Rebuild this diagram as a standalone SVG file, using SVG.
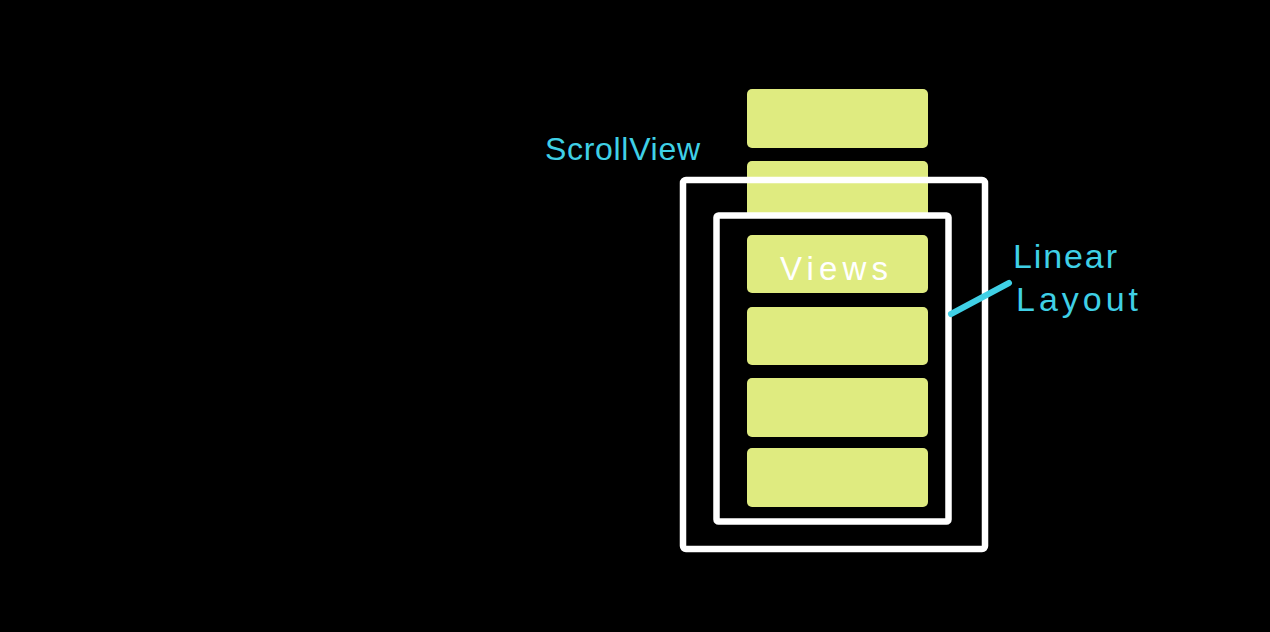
<svg xmlns="http://www.w3.org/2000/svg" width="1270" height="632" viewBox="0 0 1270 632">
<style>
.view{fill:#dfeb80;}
.frame{fill:none;stroke:#ffffff;stroke-width:6.5;}
.cyan{fill:#3fd0e6;font-family:"Liberation Sans",Arial,sans-serif;}
.white{fill:#ffffff;font-family:"Liberation Sans",Arial,sans-serif;}
</style>
<rect x="0" y="0" width="1270" height="632" fill="#000000"/>
<g id="scrollview">
<rect x="683" y="180" width="302" height="369" rx="3" fill="#000000"/>
</g>
<g id="views">
<rect class="view" x="747" y="89" width="181" height="59" rx="5"/>
<rect class="view" x="747" y="161" width="181" height="62" rx="5"/>
</g>
<g id="linearlayout">
<rect x="716.5" y="215.5" width="232" height="306" fill="#000000"/>
</g>
<g id="views-inside">
<rect class="view" x="747" y="235" width="181" height="58" rx="5"/>
<rect class="view" x="747" y="307" width="181" height="58" rx="5"/>
<rect class="view" x="747" y="378" width="181" height="59" rx="5"/>
<rect class="view" x="747" y="448" width="181" height="59" rx="5"/>
<text class="white" x="780" y="280" font-size="33" textLength="108" lengthAdjust="spacing">Views</text>
</g>
<g id="frames">
<rect class="frame" x="683" y="180" width="302" height="369" rx="3"/>
<rect class="frame" x="716.5" y="215.5" width="232" height="306" rx="2"/>
</g>
<g id="labels">
<text class="cyan" x="545" y="160" font-size="32" textLength="155" lengthAdjust="spacing">ScrollView</text>
<text class="cyan" x="1013" y="268" font-size="34" textLength="104" lengthAdjust="spacing">Linear</text>
<text class="cyan" x="1016" y="311" font-size="34" textLength="122" lengthAdjust="spacing">Layout</text>
</g>
<g id="connectors">
<line x1="951" y1="314" x2="1009" y2="283" stroke="#3fd0e6" stroke-width="6" stroke-linecap="round"/>
</g>
</svg>
